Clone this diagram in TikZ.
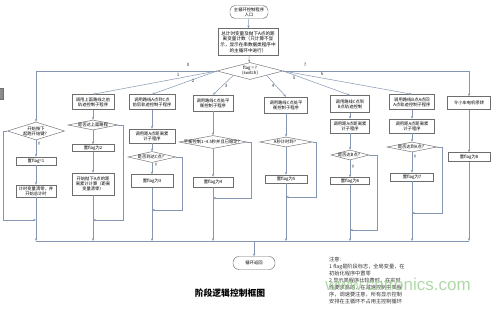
\documentclass[tikz,border=0pt]{standalone}
\usepackage{fontspec}
\setmainfont{Noto Sans CJK SC}
\newfontfamily\wmfont{Liberation Sans}
\usetikzlibrary{shapes.geometric,arrows.meta,calc}
\definecolor{lc}{RGB}{132,150,178}
\definecolor{bc}{RGB}{110,110,110}
\definecolor{wm}{RGB}{150,205,140}
\begin{document}
\begin{tikzpicture}[x=1pt,y=-1pt,
  bx/.style={draw=bc, fill=white, line width=0.45pt, rectangle, inner sep=0.3pt, align=center, font=\fontsize{4.3}{5.2}\selectfont},
  rbx/.style={bx, rounded corners=5pt},
  dm/.style={draw=bc, fill=white, line width=0.45pt, diamond, inner sep=0pt},
  dt/.style={font=\fontsize{4.3}{5.2}\selectfont, align=center, inner sep=0pt},
  ln/.style={draw=lc, line width=0.5pt},
  ar/.style={ln, -{Stealth[length=2.8pt,width=2.3pt]}},
  num/.style={font=\fontsize{4.5}{5}\selectfont, inner sep=0pt, text=black!80},
]
\useasboundingbox (0,0) rectangle (500,308);
\fill[white] (0,0) rectangle (500,308);
% fragment at left edge
\draw[bc, fill=black!45] (-2,88) rectangle (3,99);

% top
\node[rbx, minimum width=38, minimum height=13] (start) at (249,12) {主循环控制程序\\入口};
\node[bx, minimum width=60, minimum height=27, font=\fontsize{4.6}{5.6}\selectfont] (init) at (248,42)
  {总计时变量及抛下A点的距\\离变量计数（只计算不显\\示，显示在串数据类程序中\\的主循环中进行）};
\node[dm, minimum width=66, minimum height=17,
  label={[dt]center:{flag = ?\\(switch)}}] (sw) at (250,71) {};
\draw[ar] (start) -- (init);
\draw[ar] (init) -- (sw);

% column 0
\node[dm, minimum width=57, minimum height=18, label={[dt]center:{开始按下\\起跑开始键？}}] (d0) at (36,131) {};
\node[bx, minimum width=40, minimum height=8] (b0a) at (36,161) {置flag=1};
\node[bx, minimum width=40, minimum height=12] (b0b) at (36,191) {计时变量清零，并\\开始总计时};
% column 1
\node[bx, minimum width=42, minimum height=15] (b1a) at (93,102) {调用上面路线之前\\轨迹控制子程序};
\node[dm, minimum width=50, minimum height=10, label={[dt]center:{是否达上面路程}}] (d1) at (93,125) {};
\node[bx, minimum width=42, minimum height=7] (b1b) at (93,148) {置flag为2};
\node[bx, minimum width=42, minimum height=22] (b1c) at (93,184) {开始抛下A点的距\\离累计计算（距离\\变量清零）};
% column 2
\node[bx, minimum width=46, minimum height=15] (b2a) at (152,102) {调用路线A点到C点\\前后轨迹控制子程序};
\node[bx, minimum width=46, minimum height=14] (b2b) at (152,136) {调用距A点距离累\\计子程序};
\node[dm, minimum width=48, minimum height=11, label={[dt]center:{是否到达C点？}}] (d2) at (152,157) {};
\node[bx, minimum width=42, minimum height=13] (b2c) at (152,181) {置flag为3};
% column 3
\node[bx, minimum width=40, minimum height=16] (b3a) at (213,103) {调用路线C点处平\\衡控制子程序};
\node[dm, minimum width=68, minimum height=13, label={[dt]center:{平衡控制1\textasciitilde4.5秒并且已稳定？}}] (d3) at (213,142) {};
\node[bx, minimum width=40, minimum height=10] (b3b) at (213,182) {置flag为4};
% column 4
\node[bx, minimum width=43, minimum height=16] (b4a) at (286,105) {调用路线C点处平\\衡控制子程序};
\node[dm, minimum width=53, minimum height=10, label={[dt]center:{A秒计时到？}}] (d4) at (286,142) {};
\node[bx, minimum width=42, minimum height=8] (b4b) at (286,179) {置flag为5};
% column 5
\node[bx, minimum width=39, minimum height=17] (b5a) at (350,104) {调用路线C点到\\B点轨迹控制};
\node[bx, minimum width=39, minimum height=14] (b5b) at (350,126) {调用距A点距离累\\计子程序};
\node[dm, minimum width=38, minimum height=10, label={[dt]center:{是否达B点？}}] (d5) at (350,155) {};
\node[bx, minimum width=39, minimum height=7] (b5c) at (350,181) {置flag为6};
% column 6
\node[bx, minimum width=45, minimum height=15] (b6a) at (412,102) {调用路线B点A点回\\A点轨迹控制子程序};
\node[bx, minimum width=45, minimum height=14] (b6b) at (412,126) {调用距A点距离累\\计子程序};
\node[dm, minimum width=50, minimum height=10, label={[dt]center:{是否达到A点？}}] (d6) at (412,147) {};
\node[bx, minimum width=43, minimum height=8] (b6c) at (412,177) {置flag为7};
% column 7
\node[bx, minimum width=43, minimum height=13] (b7a) at (469,103) {令小车电机停转};
\node[bx, minimum width=42, minimum height=9] (b7b) at (469,157) {置flag为8};

% return
\node[rbx, minimum width=42, minimum height=13, rounded corners=6pt] (ret) at (254,263) {循环返回};

% coordinates
\coordinate (t0) at (36,71);
\foreach \n/\x in {0/36,1/93,2/152,3/213,4/286,5/350,6/412,7/469}{\coordinate (j\n) at (\x,241);}
\coordinate (jr) at (254,241);
\coordinate (l0) at (3,220);  \coordinate (m0) at (36,220);
\coordinate (l1) at (123,220); \coordinate (m1) at (93,220);
\coordinate (l2) at (182,210); \coordinate (m2) at (152,210);
\coordinate (l3) at (251,198); \coordinate (m3) at (213,198);
\coordinate (l4) at (316,197); \coordinate (m4) at (286,197);
\coordinate (l5) at (377,230); \coordinate (m5) at (350,230);
\coordinate (l6) at (442,213); \coordinate (m6) at (412,213);

% branches from switch
\draw[ln] (sw.west) -- (t0);
\draw[ar] (t0) -- (d0.north);
\draw[ar] (sw.east) -| (b7a.north);
\draw[ar] (sw.west) -- (b1a.north);
\draw[ar] (sw.west) -- (b2a.north);
\draw[ar] ($(sw.west)!0.5!(sw.south)$) -- (b3a.north);
\draw[ar] ($(sw.east)!0.5!(sw.south)$) -- (b4a.north);
\draw[ar] (sw.east) -- (b5a.north);
\draw[ar] (sw.east) -- (b6a.north);
\node[num] (n0) at (188,65) {0};
\node[num] (n1) at (178,75) {1};
\node[num] (n2) at (193,81) {2};
\node[num] (n3) at (226,86) {3};
\node[num] (n4) at (273,86) {4};
\node[num] (n5) at (294,78) {5};
\node[num] (n6) at (322,74) {6};
\node[num] (n7) at (305,65) {7};

% column flows
\draw[ar] (d0.south) -- (b0a); \draw[ar] (b0a) -- (b0b); \draw[ar] (b0b) -- (j0);
\draw[ar] (b1a) -- (d1); \draw[ar] (d1) -- (b1b); \draw[ar] (b1b) -- (b1c); \draw[ar] (b1c) -- (j1);
\draw[ar] (b2a) -- (b2b); \draw[ar] (b2b) -- (d2); \draw[ar] (d2) -- (b2c); \draw[ar] (b2c) -- (j2);
\draw[ar] (b3a) -- (d3); \draw[ar] (d3) -- (b3b); \draw[ar] (b3b) -- (j3);
\draw[ar] (b4a) -- (d4); \draw[ar] (d4) -- (b4b); \draw[ar] (b4b) -- (j4);
\draw[ar] (b5a) -- (b5b); \draw[ar] (b5b) -- (d5); \draw[ar] (d5) -- (b5c); \draw[ar] (b5c) -- (j5);
\draw[ar] (b6a) -- (b6b); \draw[ar] (b6b) -- (d6); \draw[ar] (d6) -- (b6c); \draw[ar] (b6c) -- (j6);
\draw[ar] (b7a) -- (b7b); \draw[ar] (b7b) -- (j7);

% loops (no)
\draw[ar] (d0.west) -| (l0) -- (m0);
\draw[ar] (d1.east) -| (l1) -- (m1);
\draw[ar] (d2.east) -| (l2) -- (m2);
\draw[ar] (d3.east) -| (l3) -- (m3);
\draw[ar] (d4.east) -| (l4) -- (m4);
\draw[ar] (d5.east) -| (l5) -- (m5);
\draw[ar] (d6.east) -| (l6) -- (m6);

% Y labels
\node[num] (y0) at (39,144) {Y};
\node[num] (y2) at (156,165) {Y};
\node[num] (y5) at (353,167) {Y};
\node[num] (y6) at (415,157) {Y};

% bottom
\draw[ln] (j0) -- (j7);
\draw[ar] (jr) -- (ret);

% title
\node[font=\fontsize{8.8}{10}\selectfont\bfseries, inner sep=0pt] (title) at (230,293) {阶段逻辑控制框图};

% notes
\node[anchor=north west, align=left, inner sep=0pt, font=\fontsize{5.2}{7}\selectfont, text=black!80] (notes) at (329,257)
 {注意：\\1 flag是阶段标志，全局变量，在\\初始化程序中置零\\2 显示类程序比较费时，在实时\\性要求高的，在减速控制中类程\\序，调速要注意，所有显示控制\\安排在主循环不占用主控制循环};

% watermark
\node[font=\wmfont\fontsize{17}{18}\selectfont, text=wm, opacity=0.75, inner sep=0pt] (wmk) at (398,284) {www.cntronics.com};
\end{tikzpicture}
\end{document}
